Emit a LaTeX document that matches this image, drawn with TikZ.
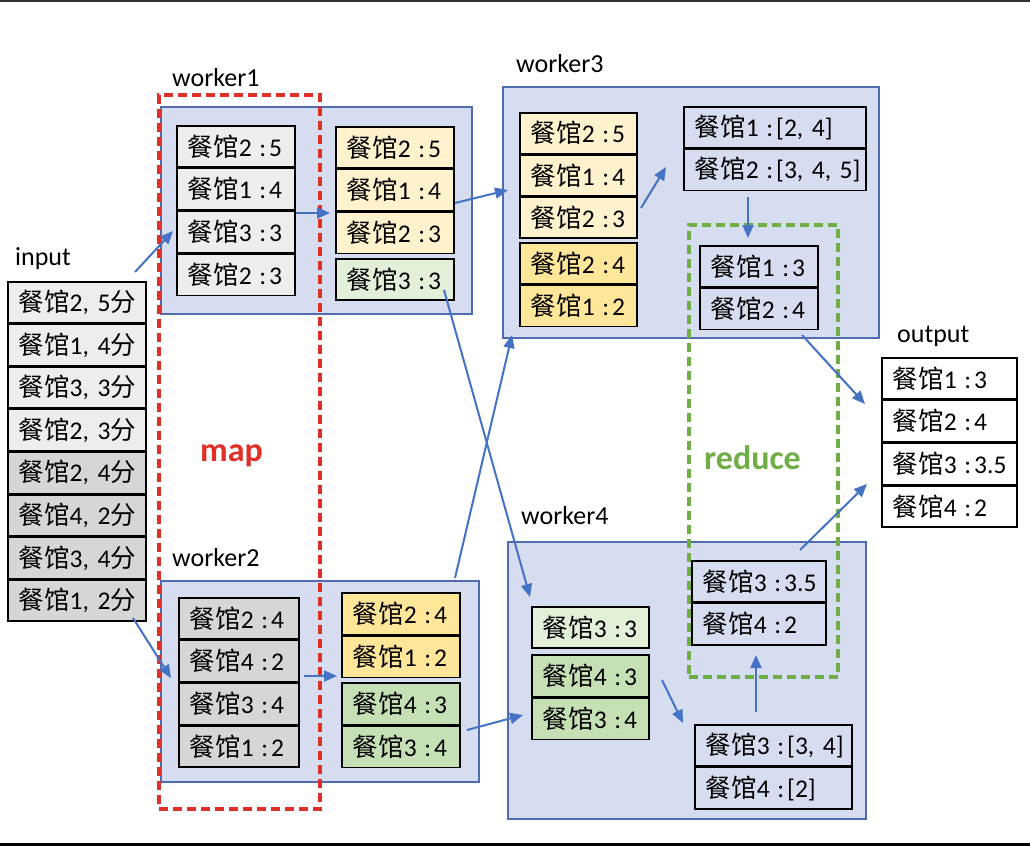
\documentclass[tikz,border=0pt]{standalone}
\usepackage{fontspec}
\setmainfont{Carlito}
\newfontfamily\cjkfont{Noto Sans CJK SC}
\usetikzlibrary{arrows.meta}
\definecolor{wfill}{HTML}{D6DDF0}
\definecolor{wline}{HTML}{4F6CB0}
\definecolor{gLight}{HTML}{EDEDED}
\definecolor{gDark}{HTML}{D6D6D6}
\definecolor{yLight}{HTML}{FFF2CC}
\definecolor{yDark}{HTML}{FFE699}
\definecolor{grLight}{HTML}{E2F0D9}
\definecolor{grDark}{HTML}{C5E0B4}
\definecolor{mapRed}{HTML}{DF2F26}
\definecolor{redGreen}{HTML}{70AD47}
\definecolor{arrBlue}{HTML}{4472C4}
\definecolor{topGrey}{HTML}{333333}
\newcommand{\rCG}{{\cjkfont 餐馆}}
\newcommand{\rFen}{{\cjkfont 分}}
\newcommand{\rCol}{\hspace{0.3em}:\hspace{0.12em}}
\newcommand{\rItem}[2]{\mbox{\rCG#1\rCol#2}}
\newcommand{\rIn}[2]{\mbox{\rCG#1, #2\rFen}}
\begin{document}
\begin{tikzpicture}[x=1pt,y=-1pt,
  cell/.style={draw=black, line width=1.5pt, minimum height=#1, inner xsep=11pt, inner ysep=0pt, align=left, anchor=north west, font=\fontsize{25.5pt}{30pt}\selectfont},
  cell/.default=41.2pt,
  wbox/.style={draw=wline, fill=wfill, line width=1.5pt, anchor=north west, inner sep=0pt},
  dbox/.style={line width=3.5pt, dash pattern=on 9pt off 5pt, anchor=north west, inner sep=0pt},
  lbl/.style={anchor=west, inner sep=0pt, font=\fontsize{26pt}{30pt}\selectfont},
  big/.style={anchor=west, inner sep=0pt, font=\fontsize{34pt}{38pt}\selectfont\bfseries},
  arr/.style={draw=arrBlue, line width=2pt, -{Triangle[length=13pt,width=11pt]}}
]
\useasboundingbox (0,0) rectangle (1030,846);
\fill[white] (0,0) rectangle (1030,846);
\draw[topGrey, line width=1.5pt] (0,0.75) -- (1030,0.75);
\fill[black] (0,843) rectangle (1030,846);

% worker boxes
\node[wbox, minimum width=311pt, minimum height=207pt] (W1) at (160,106) {};
\node[wbox, minimum width=318pt, minimum height=201pt] (W2) at (160,580) {};
\node[wbox, minimum width=376pt, minimum height=251pt] (W3) at (502,86) {};
\node[wbox, minimum width=358pt, minimum height=277pt] (W4) at (507,541) {};

% dashed boxes
\node[dbox, draw=mapRed, minimum width=161pt, minimum height=714pt] (MAPB) at (157,93) {};
\node[dbox, draw=redGreen, minimum width=149pt, minimum height=452pt] (REDB) at (687,223) {};

% labels
\node[lbl] (Lin) at (15,259) {input};
\node[lbl] (Lw1) at (172,78) {worker1};
\node[lbl] (Lw2) at (172,558) {worker2};
\node[lbl] (Lw3) at (516,64) {worker3};
\node[lbl] (Lw4) at (521,516) {worker4};
\node[lbl] (Lout) at (897,336) {output};
\node[big, text=mapRed] (Lmap) at (200,456) {map};
\node[big, text=redGreen] (Lred) at (704,458) {reduce};

% input
\node[cell=41.1pt, fill=gLight, text width=116pt] (in1) at (7,281) {\rIn{2}{5}};
\node[cell=41.1pt, fill=gLight, text width=116pt] (in2) at (in1.south west) {\rIn{1}{4}};
\node[cell=41.1pt, fill=gLight, text width=116pt] (in3) at (in2.south west) {\rIn{3}{3}};
\node[cell=41.1pt, fill=gLight, text width=116pt] (in4) at (in3.south west) {\rIn{2}{3}};
\node[cell=41.1pt, fill=gDark, text width=116pt] (in5) at (in4.south west) {\rIn{2}{4}};
\node[cell=41.1pt, fill=gDark, text width=116pt] (in6) at (in5.south west) {\rIn{4}{2}};
\node[cell=41.1pt, fill=gDark, text width=116pt] (in7) at (in6.south west) {\rIn{3}{4}};
\node[cell=41.1pt, fill=gDark, text width=116pt] (in8) at (in7.south west) {\rIn{1}{2}};

% worker1
\node[cell=41.25pt, fill=gLight, text width=96pt] (a1) at (176,125) {\rItem{2}{5}};
\node[cell=41.25pt, fill=gLight, text width=96pt] (a2) at (a1.south west) {\rItem{1}{4}};
\node[cell=41.25pt, fill=gLight, text width=96pt] (a3) at (a2.south west) {\rItem{3}{3}};
\node[cell=41.25pt, fill=gLight, text width=96pt] (a4) at (a3.south west) {\rItem{2}{3}};
\node[cell=41.3pt, fill=yLight, text width=96pt] (b1) at (335,126) {\rItem{2}{5}};
\node[cell=41.3pt, fill=yLight, text width=96pt] (b2) at (b1.south west) {\rItem{1}{4}};
\node[cell=41.3pt, fill=yLight, text width=96pt] (b3) at (b2.south west) {\rItem{2}{3}};
\node[cell=41pt, fill=grLight, text width=96pt] (c1) at (335,258) {\rItem{3}{3}};

% worker2
\node[cell=41.2pt, fill=gDark, text width=98pt] (d1) at (178,597) {\rItem{2}{4}};
\node[cell=41.2pt, fill=gDark, text width=98pt] (d2) at (d1.south west) {\rItem{4}{2}};
\node[cell=41.2pt, fill=gDark, text width=98pt] (d3) at (d2.south west) {\rItem{3}{4}};
\node[cell=41.2pt, fill=gDark, text width=98pt] (d4) at (d3.south west) {\rItem{1}{2}};
\node[cell=41.5pt, fill=yDark, text width=96pt] (e1) at (341,592) {\rItem{2}{4}};
\node[cell=41.5pt, fill=yDark, text width=96pt] (e2) at (e1.south west) {\rItem{1}{2}};
\node[cell=41.5pt, fill=grDark, text width=96pt] (f1) at (341,682) {\rItem{4}{3}};
\node[cell=41.5pt, fill=grDark, text width=96pt] (f2) at (f1.south west) {\rItem{3}{4}};

% worker3
\node[cell=40.8pt, fill=yLight, text width=95pt] (g1) at (519,112) {\rItem{2}{5}};
\node[cell=40.8pt, fill=yLight, text width=95pt] (g2) at (g1.south west) {\rItem{1}{4}};
\node[cell=40.8pt, fill=yLight, text width=95pt] (g3) at (g2.south west) {\rItem{2}{3}};
\node[cell=41pt, fill=yDark, text width=95pt] (h1) at (519,242) {\rItem{2}{4}};
\node[cell=41pt, fill=yDark, text width=95pt] (h2) at (h1.south west) {\rItem{1}{2}};
\node[cell=41pt, text width=160pt] (i1) at (683,106) {\rItem{1}{[2, 4]}};
\node[cell=41pt, text width=160pt] (i2) at (i1.south west) {\rItem{2}{[3, 4, 5]}};
\node[cell=41pt, text width=96pt] (j1) at (699,245) {\rItem{1}{3}};
\node[cell=41pt, text width=96pt] (j2) at (j1.south west) {\rItem{2}{4}};

% worker4
\node[cell=41pt, fill=grLight, text width=95pt] (k1) at (531,606) {\rItem{3}{3}};
\node[cell=41.5pt, fill=grDark, text width=95pt] (l1) at (531,654) {\rItem{4}{3}};
\node[cell=41.5pt, fill=grDark, text width=95pt] (l2) at (l1.south west) {\rItem{3}{4}};
\node[cell=41.3pt, text width=112pt] (m1) at (691,560) {\rItem{3}{3.5}};
\node[cell=41.3pt, text width=112pt] (m2) at (m1.south west) {\rItem{4}{2}};
\node[cell=41.3pt, text width=135pt] (n1) at (694,724) {\rItem{3}{[3, 4]}};
\node[cell=41.3pt, text width=135pt] (n2) at (n1.south west) {\rItem{4}{[2]}};

% output
\node[cell=41.2pt, fill=white, text width=113pt] (o1) at (881,357) {\rItem{1}{3}};
\node[cell=41.2pt, fill=white, text width=113pt] (o2) at (o1.south west) {\rItem{2}{4}};
\node[cell=41.2pt, fill=white, text width=113pt] (o3) at (o2.south west) {\rItem{3}{3.5}};
\node[cell=41.2pt, fill=white, text width=113pt] (o4) at (o3.south west) {\rItem{4}{2}};

% arrow end points
\coordinate (p1s) at (135,272); \coordinate (p1e) at (173,231);
\coordinate (p2s) at (133,618); \coordinate (p2e) at (171,678);
\coordinate (p3s) at (296,213); \coordinate (p3e) at (330,213);
\coordinate (p4s) at (304,676); \coordinate (p4e) at (337,676);
\coordinate (p5s) at (455,203); \coordinate (p5e) at (508,190);
\coordinate (p6s) at (444,290); \coordinate (p6e) at (530,597);
\coordinate (p7s) at (455,578); \coordinate (p7e) at (512,335);
\coordinate (p8s) at (467,730); \coordinate (p8e) at (523,715);
\coordinate (p9s) at (641,208); \coordinate (p9e) at (666,167);
\coordinate (p10s) at (748,197); \coordinate (p10e) at (748,238);
\coordinate (p11s) at (802,335); \coordinate (p11e) at (865,404);
\coordinate (p12s) at (662,680); \coordinate (p12e) at (683,723);
\coordinate (p13s) at (756,712); \coordinate (p13e) at (756,655);
\coordinate (p14s) at (800,550); \coordinate (p14e) at (867,484);

\draw[arr] (p1s) -- (p1e);
\draw[arr] (p2s) -- (p2e);
\draw[arr] (p3s) -- (p3e);
\draw[arr] (p4s) -- (p4e);
\draw[arr] (p5s) -- (p5e);
\draw[arr] (p6s) -- (p6e);
\draw[arr] (p7s) -- (p7e);
\draw[arr] (p8s) -- (p8e);
\draw[arr] (p9s) -- (p9e);
\draw[arr] (p10s) -- (p10e);
\draw[arr] (p11s) -- (p11e);
\draw[arr] (p12s) -- (p12e);
\draw[arr] (p13s) -- (p13e);
\draw[arr] (p14s) -- (p14e);
\end{tikzpicture}
\end{document}
